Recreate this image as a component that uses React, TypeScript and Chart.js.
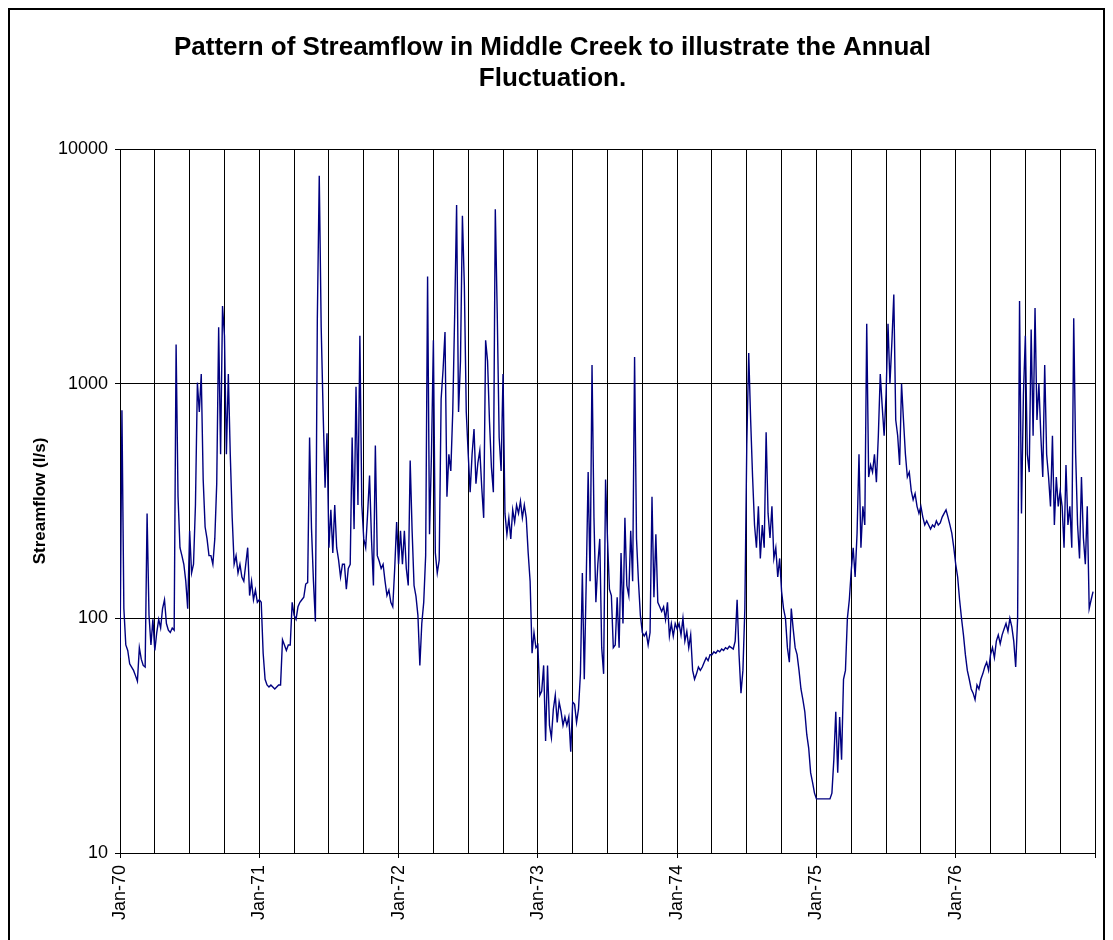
import React, { useEffect, useRef } from "react";
import { Chart, registerables } from "chart.js";

Chart.register(...registerables);

const FONT = "'Liberation Sans', Arial, sans-serif";

const TITLE_LINES = [
  "Pattern of Streamflow in Middle Creek to illustrate the Annual",
  "Fluctuation.",
];
const Y_TITLE = "Streamflow (l/s)";
const YEAR_LABELS = ["Jan-70", "Jan-71", "Jan-72", "Jan-73", "Jan-74", "Jan-75", "Jan-76"];
const Y_TICKS = [10, 100, 1000, 10000];
const GRID_MONTHS = [0, 3, 6, 9, 12, 15, 18, 21, 24, 27, 30, 33, 36, 39, 42, 45, 48, 51, 54, 57, 60, 63, 66, 69, 72, 75, 78, 81, 84];

// Streamflow (l/s), 6 readings per month (Jan..Dec).
const flow1970 = [
  68, 770, 110, 77, 73, 64,
  62, 60, 57, 54, 75, 67,
  63, 62, 280, 103, 77, 99,
  73, 87, 99, 91, 110, 120,
  95, 89, 87, 91, 89, 1470,
  330, 200, 185, 170, 144, 110,
  236, 156, 170, 304, 1010, 757,
  1100, 390, 245, 218, 185, 185,
  170, 218, 375, 1740, 500, 2140,
  1600, 500, 1100, 500, 268, 170,
  185, 156, 170, 150, 144, 170,
  200, 125, 144, 120, 132, 117,
];
const flow1971 = [
  120, 117, 71, 55, 52, 51,
  52, 51, 50, 51, 52, 52,
  81, 77, 73, 77, 77, 117,
  103, 99, 112, 117, 120, 123,
  140, 142, 590, 240, 144, 97,
  1880, 7700, 1740, 757, 360, 615,
  200, 290, 190, 304, 200, 177,
  150, 170, 170, 133, 163, 170,
  590, 240, 970, 304, 1600, 304,
  218, 200, 280, 406, 218, 138,
  545, 185, 175, 163, 170, 144,
  125, 132, 117, 112, 163, 257,
];
const flow1972 = [
  170, 236, 170, 236, 163, 138,
  470, 236, 138, 124, 103, 63,
  95, 117, 185, 2860, 228, 500,
  1530, 190, 156, 177, 860, 1146,
  1660, 330, 500, 425, 757, 1970,
  5770, 757, 1250, 5200, 2630, 757,
  500, 345, 500, 640, 375, 460,
  520, 360, 268, 1530, 1250, 690,
  440, 345, 5540, 2000, 590, 425,
  1100, 280, 228, 268, 218, 290,
  257, 304, 280, 316, 268, 304,
  268, 190, 144, 71, 87, 75,
];
const flow1973 = [
  77, 47, 49, 63, 30, 63,
  35, 31, 41, 47, 36, 44,
  40, 35, 38, 35, 38, 27,
  44, 43, 36, 41, 58, 156,
  55, 144, 420, 144, 1200, 268,
  117, 170, 218, 75, 58, 390,
  218, 133, 125, 75, 77, 123,
  75, 190, 95, 268, 138, 125,
  236, 144, 1300, 218, 144, 103,
  87, 84, 87, 77, 87, 330,
  123, 228, 117, 112, 107, 112,
  99, 117, 84, 95, 84, 95,
];
const flow1974 = [
  90, 95, 85, 100, 80, 88,
  75, 85, 60, 55, 58, 62,
  60, 62, 65, 68, 66, 70,
  70, 72, 71, 73, 72, 74,
  73, 75, 74, 76, 75, 74,
  80, 120, 70, 48, 60, 110,
  550, 1350, 700, 400, 250, 200,
  300, 180, 250, 200, 620, 280,
  220, 300, 180, 200, 150, 180,
  130, 110, 100, 75, 65, 110,
  90, 75, 70, 60, 50, 45,
  40, 32, 28, 22, 20, 18,
];
const flow1975 = [
  17, 17, 17, 17, 17, 17,
  17, 17, 18, 25, 40, 22,
  38, 25, 55, 60, 100, 120,
  160, 200, 150, 230, 500, 200,
  300, 250, 1800, 400, 450, 420,
  500, 380, 600, 1100, 800, 600,
  900, 1800, 1000, 1500, 2400, 700,
  600, 450, 1000, 700, 500, 400,
  420, 350, 320, 340, 300, 280,
  300, 270, 250, 260, 250, 240,
  250, 245, 260, 250, 255, 270,
  280, 290, 270, 250, 230, 200,
];
const flow1976 = [
  170, 150, 120, 100, 85, 70,
  60, 55, 50, 48, 45, 52,
  50, 55, 58, 62, 65, 60,
  70, 75, 68, 80, 85, 78,
  85, 90, 95, 88, 100, 92,
  80, 62, 100, 2250, 280, 900,
  1600, 500, 420, 1700, 600, 2100,
  700, 1000, 600, 400, 1200, 500,
  400, 300, 600, 250, 400, 300,
  350, 300, 200, 450, 250, 300,
  200, 1900, 500, 250, 180, 400,
  220, 170, 300, 110, 120, 130,
];

const YEARS = [flow1970, flow1971, flow1972, flow1973, flow1974, flow1975, flow1976];

export default function App() {
  const ref = useRef<HTMLCanvasElement | null>(null);

  useEffect(() => {
    document.body.style.overflow = "hidden";
    const points: { x: number; y: number }[] = [];
    YEARS.forEach((arr, yi) => {
      arr.forEach((v, k) => {
        points.push({ x: yi * 12 + (k * 12) / arr.length, y: v });
      });
    });

    const chart = new Chart(ref.current as HTMLCanvasElement, {
      type: "line",
      data: {
        datasets: [
          {
            data: points,
            borderColor: "#000080",
            borderWidth: 1.4,
            pointRadius: 0,
            tension: 0,
            fill: false,
          },
        ],
      },
      options: {
        animation: false,
        responsive: false,
        devicePixelRatio: 1,
        layout: { padding: { left: 0, right: 8, top: 0, bottom: 0 } },
        plugins: {
          legend: { display: false },
          tooltip: { enabled: false },
          title: {
            display: true,
            text: TITLE_LINES,
            color: "#000",
            font: { family: FONT, size: 26, weight: "bold", lineHeight: 1.2 },
            padding: { top: 22, bottom: 54.6 },
          },
        },
        scales: {
          x: {
            type: "linear",
            min: 0,
            max: 84,
            afterBuildTicks: (s: any) => {
              s.ticks = GRID_MONTHS.map((v) => ({ value: v }));
            },
            afterFit: (s: any) => {
              s.height = 87;
              s.paddingLeft = 0;
              s.paddingRight = 0;
            },
            grid: {
              color: "#000",
              lineWidth: 1,
              drawTicks: true,
              tickLength: 5,
              tickColor: (ctx: any) =>
                ctx.tick && ctx.tick.value % 12 === 0 ? "#000" : "rgba(0,0,0,0)",
            },
            border: { display: true, color: "#000", width: 1 },
            ticks: {
              autoSkip: false,
              minRotation: 90,
              maxRotation: 90,
              padding: 7,
              color: "#000",
              font: { family: FONT, size: 18 },
              callback: (v: any) => {
                const n = Number(v);
                return n % 12 === 0 && n < 84 ? YEAR_LABELS[n / 12] : "";
              },
            },
          },
          y: {
            type: "logarithmic",
            min: 10,
            max: 10000,
            afterBuildTicks: (s: any) => {
              s.ticks = Y_TICKS.map((v) => ({ value: v }));
            },
            afterFit: (s: any) => {
              s.width = 110;
              s.paddingTop = 0;
              s.paddingBottom = 0;
            },
            grid: { color: "#000", lineWidth: 1, tickLength: 5, tickColor: "#000" },
            border: { display: true, color: "#000", width: 1 },
            ticks: {
              padding: 7,
              color: "#000",
              font: { family: FONT, size: 18 },
              callback: (v: any) => String(v),
            },
            title: {
              display: true,
              text: Y_TITLE,
              color: "#000",
              font: { family: FONT, size: 17, weight: "bold", lineHeight: 1.2 },
              padding: { top: 20, bottom: 0 },
            },
          },
        },
      },
    } as any);

    return () => chart.destroy();
  }, []);

  return (
    <div
      style={{
        width: 1097,
        height: 934,
        border: "2px solid #000",
        boxSizing: "border-box",
        background: "#fff",
      }}
    >
      <canvas ref={ref} width={1093} height={930} style={{ display: "block" }} />
    </div>
  );
}
